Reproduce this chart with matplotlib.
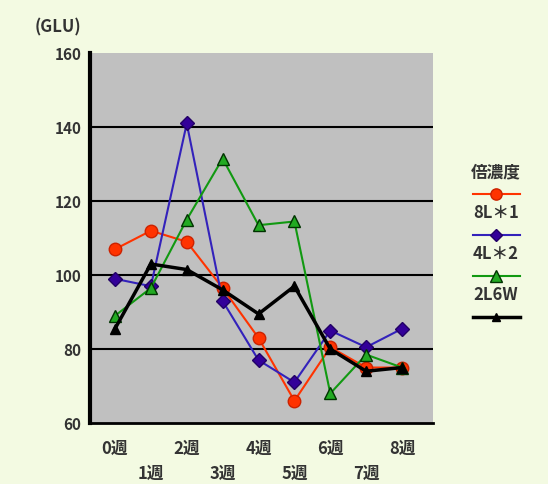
import matplotlib
matplotlib.use('Agg')
import matplotlib.pyplot as plt
from matplotlib.lines import Line2D

plt.rcParams['font.family'] = ['Noto Sans CJK JP', 'DejaVu Sans']

# data (GLU per week)
weeks = ['0週', '1週', '2週', '3週', '4週', '5週', '6週', '7週', '8週']
s_8l1 = [107, 112, 109, 96.5, 83, 66, 80.5, 75, 75]
s_4l2 = [99, 97, 141, 93, 77, 71, 85, 80.5, 85.5]
s_2l6w = [89, 96.5, 115, 131.5, 113.5, 114.5, 68, 78.5, 75]
s_black = [85.5, 103, 101.5, 96, 89.5, 97, 80, 74, 75]
series_names = ['8L＊1', '4L＊2', '2L6W', '']
legend_title = '倍濃度'
y_ticks = [60, 80, 100, 120, 140, 160]

BG = '#f3fae2'
TXT = '#333333'

styles = [
    dict(color='#ff3300', marker='o', ms=9, mfc='#ff3300', mec='#cc2200', lw=1.5),
    dict(color='#3322bb', marker='D', ms=7, mfc='#330099', mec='#220066', lw=1.5),
    dict(color='#119911', marker='^', ms=9, mfc='#22aa22', mec='#003300', lw=1.5),
    dict(color='#000000', marker='^', ms=7, mfc='#000000', mec='#000000', lw=2.5),
]

fig = plt.figure(figsize=(5.48, 4.84), dpi=100, facecolor=BG)
ax = fig.add_axes([0.164, 0.126, 0.626, 0.764])
ax.set_facecolor('#c0c0c0')

for y in [80, 100, 120, 140]:
    ax.axhline(y, color='black', lw=1.5, zorder=1)

xs = list(range(len(weeks)))
for vals, st in zip([s_8l1, s_4l2, s_2l6w, s_black], styles):
    ax.plot(xs, vals, zorder=3, **st)

ax.set_xlim(-0.70, 8.86)
ax.set_ylim(60, 160)

ax.set_yticks(y_ticks)
ax.set_yticklabels([str(v) for v in y_ticks], fontsize=11, fontweight='bold', color=TXT)
ax.tick_params(axis='y', length=0, pad=6)

ax.set_xticks(xs[0::2])
ax.set_xticklabels(weeks[0::2], fontsize=12, fontweight='bold', color=TXT)
ax.set_xticks(xs[1::2], minor=True)
ax.set_xticklabels(weeks[1::2], minor=True, fontsize=12, fontweight='bold', color=TXT)
ax.tick_params(axis='x', which='major', length=0, pad=12)
ax.tick_params(axis='x', which='minor', length=0, pad=30)

for side in ['top', 'right']:
    ax.spines[side].set_visible(False)
ax.spines['left'].set_linewidth(3)
ax.spines['bottom'].set_linewidth(2)

fig.text(35 / 548, 1 - 27 / 484, '(GLU)', fontsize=12, fontweight='bold',
         color=TXT, ha='left', va='center')

# hand-made legend: marker line above each label
W, H = 548.0, 484.0
fig.text(496 / W, 1 - 172 / H, legend_title, fontsize=12, fontweight='bold',
         color=TXT, ha='center', va='center')
rows = [194, 235, 276, 317]
for name, st, yy in zip(series_names, styles, rows):
    ln = Line2D([473 / W, 520 / W], [1 - yy / H, 1 - yy / H], transform=fig.transFigure,
                color=st['color'], lw=st['lw'])
    fig.add_artist(ln)
    mk = Line2D([496 / W], [1 - yy / H], transform=fig.transFigure, marker=st['marker'],
                ms=st['ms'] * 0.9, mfc=st['mfc'], mec=st['mec'], lw=0)
    fig.add_artist(mk)
    if name:
        fig.text(496 / W, 1 - (yy + 19) / H, name, fontsize=12, fontweight='bold',
                 color=TXT, ha='center', va='center')

fig.savefig('out.png', dpi=100, facecolor=BG)
